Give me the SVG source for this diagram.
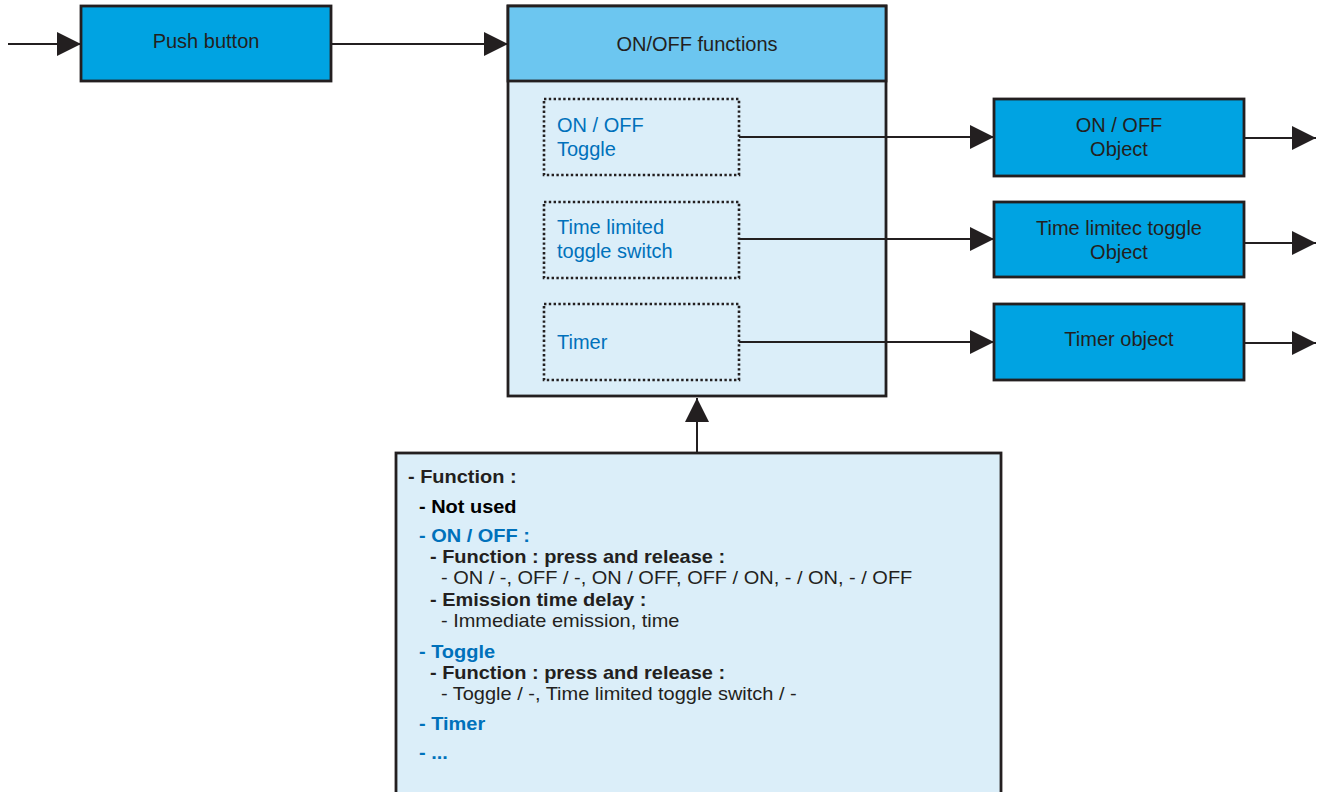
<svg xmlns="http://www.w3.org/2000/svg" width="1318" height="792" viewBox="0 0 1318 792">
<style>
.box{stroke:#231f20;stroke-width:2.8}
.blk{fill:#00a3e2}
.hdr{fill:#6cc6f0}
.pale{fill:#dbeef9}
.dot{fill:none;stroke:#231f20;stroke-width:2.6;stroke-dasharray:2.4 2.4}
.conn{fill:none;stroke:#231f20;stroke-width:2}
.t{font-family:"Liberation Sans",Arial,sans-serif;font-size:20px;fill:#231f20}
.c{text-anchor:middle}
.s{font-family:"Liberation Sans",Arial,sans-serif;font-size:18px;fill:#231f20}
.bd{font-weight:bold}
.k{fill:#000}
.t.b,.s.b{fill:#0071bb}
</style>
<defs>
<marker id="ah" markerUnits="userSpaceOnUse" markerWidth="24" markerHeight="24" refX="24" refY="12" orient="auto" viewBox="0 0 24 24">
<path d="M0,0 L24,12 L0,24 z" fill="#231f20"/>
</marker>
</defs>
<g id="push-button">
<rect class="box blk" x="81" y="6" width="250" height="75"/>
<text class="t c" x="206" y="48">Push button</text>
</g>
<g id="onoff-functions">
<rect class="box pale" x="508" y="6" width="378" height="390"/>
<rect class="box hdr" x="508" y="6" width="378" height="75"/>
<text class="t c" x="697" y="51">ON/OFF functions</text>
</g>
<g id="onoff-toggle">
<rect class="dot" x="544" y="99" width="195" height="76"/>
<text class="t b" x="557" y="132">ON / OFF</text>
<text class="t b" x="557" y="156">Toggle</text>
</g>
<g id="time-limited">
<rect class="dot" x="544" y="202" width="195" height="76"/>
<text class="t b" x="557" y="234">Time limited</text>
<text class="t b" x="557" y="258">toggle switch</text>
</g>
<g id="timer">
<rect class="dot" x="544" y="304" width="195" height="76"/>
<text class="t b" x="557" y="349">Timer</text>
</g>
<g id="onoff-object">
<rect class="box blk" x="994" y="99" width="250" height="77"/>
<text class="t c" x="1119" y="132">ON / OFF</text>
<text class="t c" x="1119" y="156">Object</text>
</g>
<g id="time-limited-object">
<rect class="box blk" x="994" y="202" width="250" height="75"/>
<text class="t c" x="1119" y="235">Time limitec toggle</text>
<text class="t c" x="1119" y="259">Object</text>
</g>
<g id="timer-object">
<rect class="box blk" x="994" y="304" width="250" height="76"/>
<text class="t c" x="1119" y="346">Timer object</text>
</g>
<g id="parameters">
<rect class="box pale" x="396" y="453" width="605" height="345"/>
<g transform="translate(396,0) scale(1.11,1)">
<text class="s bd" x="10.8" y="483">- Function :</text>
<text class="s bd k" x="20.7" y="513">- Not used</text>
<text class="s bd b" x="20.7" y="542">- ON / OFF :</text>
<text class="s bd" x="30.6" y="563">- Function : press and release :</text>
<text class="s" x="40.5" y="584">- ON / -, OFF / -, ON / OFF, OFF / ON, - / ON, - / OFF</text>
<text class="s bd" x="30.6" y="606">- Emission time delay :</text>
<text class="s" x="40.5" y="627">- Immediate emission, time</text>
<text class="s bd b" x="20.7" y="658">- Toggle</text>
<text class="s bd" x="30.6" y="679">- Function : press and release :</text>
<text class="s" x="40.5" y="700">- Toggle / -, Time limited toggle switch / -</text>
<text class="s bd b" x="20.7" y="730">- Timer</text>
<text class="s bd b" x="20.7" y="759">- ...</text>
</g>
</g>
<g id="connectors">
<path class="conn" d="M8,44 H81" marker-end="url(#ah)"/>
<path class="conn" d="M331,44 H508" marker-end="url(#ah)"/>
<path class="conn" d="M739,137 H994" marker-end="url(#ah)"/>
<path class="conn" d="M739,239 H994" marker-end="url(#ah)"/>
<path class="conn" d="M739,342 H994" marker-end="url(#ah)"/>
<path class="conn" d="M1244,138 H1316" marker-end="url(#ah)"/>
<path class="conn" d="M1244,243 H1316" marker-end="url(#ah)"/>
<path class="conn" d="M1244,343 H1316" marker-end="url(#ah)"/>
<path class="conn" d="M697,453 V398" marker-end="url(#ah)"/>
</g>
</svg>
